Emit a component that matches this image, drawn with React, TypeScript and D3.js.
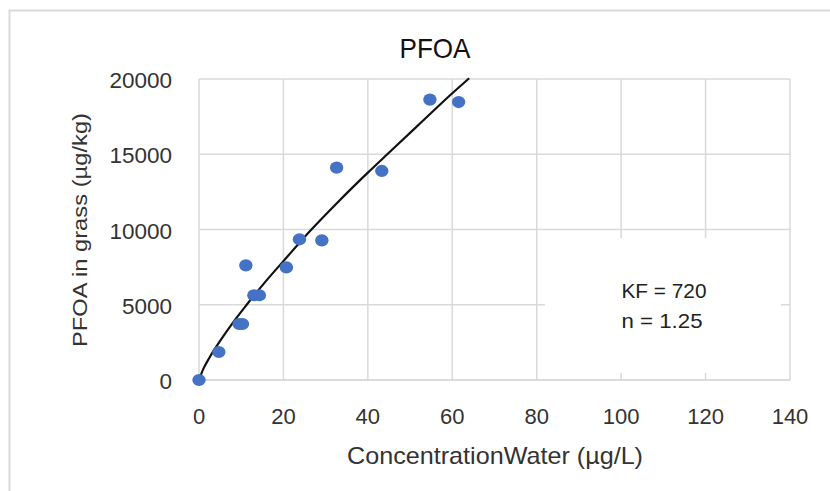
import React from "react";
import * as d3 from "d3";

const W = 830;
const H = 491;

// Observed data points (µg/L, µg/kg)
const waterConc = [0, 4.7, 9.5, 10.3, 11.1, 13.0, 14.3, 20.7, 23.8, 29.1, 32.6, 43.3, 54.7, 61.5];
const grassConc = [0, 1860, 3720, 3720, 7620, 5630, 5630, 7480, 9350, 9280, 14110, 13890, 18630, 18470];

// Fitted Freundlich curve (KF = 720, n = 1.25)
const fitX = [0, 1, 2.5, 5, 8, 11.3, 16, 20, 26.3, 33, 40, 44.6, 52, 60, 64];
const fitY = [0, 720, 1500, 2600, 3800, 5000, 6620, 7900, 9900, 11850, 13780, 15000, 16950, 19050, 20050];

const xTicks = [0, 20, 40, 60, 80, 100, 120, 140];
const yTicks = [0, 5000, 10000, 15000, 20000];

const titleText = "PFOA";
const xTitle = "ConcentrationWater (µg/L)";
const yTitle = "PFOA in grass (µg/kg)";
const annotation = ["KF = 720", "n = 1.25"];

const FONT = "'Liberation Sans', Arial, sans-serif";

export default function App() {
  const x = d3.scaleLinear().domain([0, 140]).range([199, 790]);
  const y = d3.scaleLinear().domain([0, 20000]).range([380, 79]);

  const line = d3
    .line<number>()
    .x((_, i) => x(fitX[i]))
    .y((d) => y(d))
    .curve(d3.curveMonotoneX);

  const grid = "#d9d9d9";

  return (
    <svg
      width={W}
      height={H}
      style={{ position: "absolute", left: 0, top: 0, background: "#fff" }}
    >
      <rect x={0} y={0} width={W} height={H} fill="#fff" />
      {/* chart area border */}
      <rect x={9.5} y={10.5} width={W + 20} height={H + 20} fill="none" stroke={grid} strokeWidth={2} />

      {/* gridlines */}
      {xTicks.slice(1).map((t) => (
        <line key={"gx" + t} x1={x(t)} x2={x(t)} y1={y(20000)} y2={y(0)} stroke={grid} strokeWidth={1.5} />
      ))}
      {yTicks.slice(1).map((t) => (
        <line key={"gy" + t} x1={x(0)} x2={x(140)} y1={y(t)} y2={y(t)} stroke={grid} strokeWidth={1.5} />
      ))}
      <line x1={x(0)} x2={x(0)} y1={y(20000)} y2={y(0)} stroke={grid} strokeWidth={1.5} />
      <line x1={x(0)} x2={x(140)} y1={y(0)} y2={y(0)} stroke="#cfcfcf" strokeWidth={1.5} />

      {/* annotation box covering grid */}
      <rect x={545} y={238} width={236} height={135} fill="#fff" />
      <text x={621.5} y={298} fontFamily={FONT} fontSize={21} fill="#222" textLength={85} lengthAdjust="spacingAndGlyphs">
        {annotation[0]}
      </text>
      <text x={621.5} y={328} fontFamily={FONT} fontSize={21} fill="#222" textLength={81} lengthAdjust="spacingAndGlyphs">
        {annotation[1]}
      </text>

      {/* fit curve */}
      <path d={line(fitY) || ""} fill="none" stroke="#111" strokeWidth={2.2} />

      {/* points */}
      {waterConc.map((v, i) => (
        <ellipse key={"p" + i} cx={x(v)} cy={y(grassConc[i])} rx={6.7} ry={6.1} fill="#4472C4" />
      ))}

      {/* tick labels */}
      {xTicks.map((t) => (
        <text key={"xt" + t} x={x(t)} y={423.5} textAnchor="middle" fontFamily={FONT} fontSize={22} fill="#333">
          {t}
        </text>
      ))}
      {yTicks.map((t) => (
        <text key={"yt" + t} x={172} y={y(t) + 9} textAnchor="end" fontFamily={FONT} fontSize={22.5} fill="#333">
          {t}
        </text>
      ))}

      {/* titles */}
      <text x={435} y={58} textAnchor="middle" fontFamily={FONT} fontSize={28} fill="#111" textLength={71} lengthAdjust="spacingAndGlyphs">
        {titleText}
      </text>
      <text x={495} y={463.5} textAnchor="middle" fontFamily={FONT} fontSize={24} fill="#333" textLength={296} lengthAdjust="spacingAndGlyphs">
        {xTitle}
      </text>
      <text
        transform={`translate(86.5,230) rotate(-90)`}
        textAnchor="middle"
        fontFamily={FONT}
        fontSize={20.5}
        fill="#333"
        textLength={234}
        lengthAdjust="spacingAndGlyphs"
      >
        {yTitle}
      </text>
    </svg>
  );
}
